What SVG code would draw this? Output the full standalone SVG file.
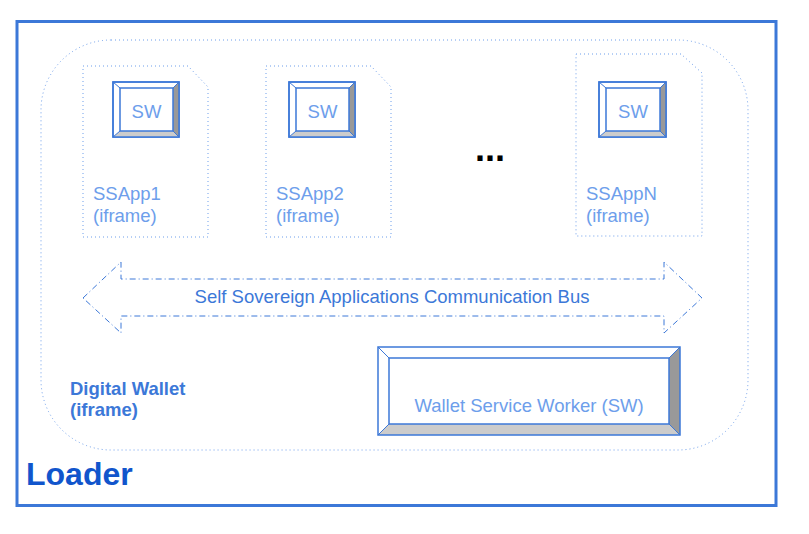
<svg xmlns="http://www.w3.org/2000/svg" width="809" height="534" viewBox="0 0 809 534">
<style>
text{font-family:"Liberation Sans",Arial,sans-serif}
.app{fill:none;stroke:#6d9eeb;stroke-width:1;stroke-dasharray:1 3}
.sw{fill:#fff;stroke:#3c78d8;stroke-width:1.5}
.lt{fill:#6d9eeb;font-size:18.5px}
.sws{fill:#6d9eeb;font-size:18.5px;text-anchor:middle}
</style>
<rect width="809" height="534" fill="#fff"/>
<g id="loader">
<rect x="17" y="21.5" width="759" height="484" fill="none" stroke="#3c78d8" stroke-width="3"/>
<text x="26" y="485" font-size="32" font-weight="bold" fill="#1155cc">Loader</text>
</g>
<g id="digital-wallet">
<rect x="41" y="40" width="707" height="410" rx="70" ry="70" fill="none" stroke="#6d9eeb" stroke-width="1" stroke-dasharray="1 3"/>
<text x="70" y="395" font-size="18.5" font-weight="bold" fill="#3c78d8">Digital Wallet</text>
<text x="70" y="416" font-size="18.5" font-weight="bold" fill="#3c78d8">(iframe)</text>
</g>
<g id="ssapp1">
<path class="app" d="M83 66H188L208 87V237H83Z"/>
<g>
<rect class="sw" x="113" y="82" width="66" height="55"/>
<polygon points="173,88 179,82 179,137 173,131" fill="#999"/>
<polygon points="120,131 173,131 179,137 113,137" fill="#ccc"/>
<path d="M113 82L120 88M179 82L173 88M113 137L120 131M179 137L173 131" stroke="#3c78d8" stroke-width="1"/>
<rect x="113" y="82" width="66" height="55" fill="none" stroke="#3c78d8" stroke-width="1.5"/>
<rect x="120" y="88" width="53" height="43" fill="#fff" stroke="#3c78d8" stroke-width="1.5"/>
<text class="sws" x="146.5" y="118">SW</text>
</g>
<text class="lt" x="93" y="200">SSApp1</text>
<text class="lt" x="93" y="222">(iframe)</text>
</g>
<g id="ssapp2">
<path class="app" d="M266 66H371L391 87V237H266Z"/>
<g>
<rect class="sw" x="289" y="82" width="66" height="55"/>
<polygon points="349,88 355,82 355,137 349,131" fill="#999"/>
<polygon points="296,131 349,131 355,137 289,137" fill="#ccc"/>
<path d="M289 82L296 88M355 82L349 88M289 137L296 131M355 137L349 131" stroke="#3c78d8" stroke-width="1"/>
<rect x="289" y="82" width="66" height="55" fill="none" stroke="#3c78d8" stroke-width="1.5"/>
<rect x="296" y="88" width="53" height="43" fill="#fff" stroke="#3c78d8" stroke-width="1.5"/>
<text class="sws" x="322.5" y="118">SW</text>
</g>
<text class="lt" x="276" y="200">SSApp2</text>
<text class="lt" x="276" y="222">(iframe)</text>
</g>
<g id="ellipsis">
<text x="490" y="161" font-size="36" font-weight="bold" fill="#000" text-anchor="middle">...</text>
</g>
<g id="ssappn">
<path class="app" d="M576 54H681L702 73V236H576Z"/>
<g>
<rect class="sw" x="599" y="82" width="67" height="55"/>
<polygon points="660,88 666,82 666,137 660,131" fill="#999"/>
<polygon points="606,131 660,131 666,137 599,137" fill="#ccc"/>
<path d="M599 82L606 88M666 82L660 88M599 137L606 131M666 137L660 131" stroke="#3c78d8" stroke-width="1"/>
<rect x="599" y="82" width="67" height="55" fill="none" stroke="#3c78d8" stroke-width="1.5"/>
<rect x="606" y="88" width="54" height="43" fill="#fff" stroke="#3c78d8" stroke-width="1.5"/>
<text class="sws" x="633" y="118">SW</text>
</g>
<text class="lt" x="586" y="200">SSAppN</text>
<text class="lt" x="586" y="222">(iframe)</text>
</g>
<g id="connectors">
<g id="bus">
<path d="M83 298L121 262V279H664V262L702 298L664 333V316H121V333Z" fill="none" stroke="#3c78d8" stroke-width="1" stroke-dasharray="6 3 1 3"/>
<text x="392" y="303" font-size="18.5" fill="#3c78d8" text-anchor="middle">Self Sovereign Applications Communication Bus</text>
</g>
</g>
<g id="wallet-sw">
<rect x="378" y="347" width="302" height="88" fill="#fff"/>
<polygon points="669,358 680,347 680,435 669,424" fill="#999"/>
<polygon points="389,424 669,424 680,435 378,435" fill="#ccc"/>
<path d="M378 347L389 358M680 347L669 358M378 435L389 424M680 435L669 424" stroke="#3c78d8" stroke-width="1"/>
<rect x="378" y="347" width="302" height="88" fill="none" stroke="#3c78d8" stroke-width="1.5"/>
<rect x="389" y="358" width="280" height="66" fill="#fff" stroke="#3c78d8" stroke-width="1.5"/>
<text class="sws" x="529" y="412">Wallet Service Worker (SW)</text>
</g>
</svg>
